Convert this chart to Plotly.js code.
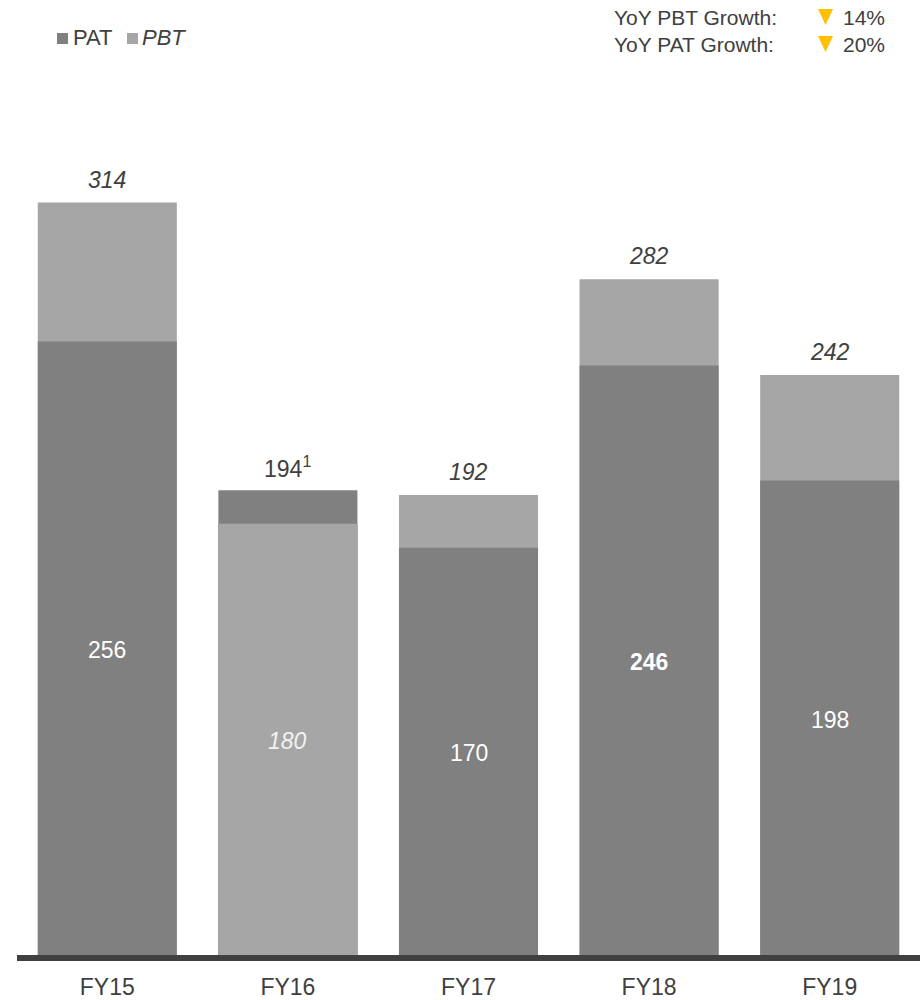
<!DOCTYPE html>
<html>
<head>
<meta charset="utf-8">
<script src="https://cdn.plot.ly/plotly-3.0.1.min.js"></script>
<style>
html,body{margin:0;padding:0;background:#fff;}
#chart{width:922px;height:1000px;}
</style>
</head>
<body>
<div id="chart"></div>
<script>
// ---- data ----
const categories = ['FY15', 'FY16', 'FY17', 'FY18', 'FY19'];
const PAT = [256, 194, 170, 246, 198];
const PBT = [314, 180, 192, 282, 242];
const yoyLabels = ['YoY PBT Growth:', 'YoY PAT Growth:'];
const yoyValues = ['14%', '20%'];
const footnoteCats = ['FY16'];
const boldCats = ['FY18'];

// ---- styling ----
const DARK = '#808080', LIGHT = '#A6A6A6', TXT = '#404040', GOLD = '#FFC000';
const FONT = '"Liberation Sans", Arial, Helvetica, sans-serif';
const W = 922, H = 1000, ML = 17, MR = 2, MT = 60, MB = 45;
const PW = W - ML - MR, PH = H - MT - MB;
const px = x => (x - ML) / PW;
const py = y => (H - MB - y) / PH;

// PBT drawn in front only where it is the smaller value
const PBTfront = PBT.map((v, i) => v < PAT[i] ? v : null);

const traces = [
  {type: 'bar', x: categories, y: PBT, marker: {color: LIGHT}, hoverinfo: 'skip', showlegend: false},
  {type: 'bar', x: categories, y: PAT, marker: {color: DARK}, hoverinfo: 'skip', showlegend: false},
  {type: 'bar', x: categories, y: PBTfront, marker: {color: LIGHT}, hoverinfo: 'skip', showlegend: false}
];

const annotations = [];
categories.forEach((c, i) => {
  const lo = Math.min(PAT[i], PBT[i]);
  const hi = Math.max(PAT[i], PBT[i]);
  const loIsPBT = PBT[i] < PAT[i];
  let inner = String(lo);
  if (loIsPBT) inner = '<i>' + inner + '</i>';
  if (boldCats.includes(c)) inner = '<b>' + inner + '</b>';
  annotations.push({x: c, y: lo / 2, xref: 'x', yref: 'y', text: inner, showarrow: false,
    font: {family: FONT, size: 23, color: loIsPBT ? '#F2F2F2' : '#FFFFFF'}, yanchor: 'middle', yshift: -2});
  let top = String(hi);
  if (!loIsPBT) top = '<i>' + top + '</i>';
  if (footnoteCats.includes(c)) top += '<sup>1</sup>';
  annotations.push({x: c, y: hi, xref: 'x', yref: 'y', text: top, showarrow: false,
    font: {family: FONT, size: 23, color: TXT}, yanchor: 'middle', yshift: 23});
});

// legend (manual)
const shapes = [
  {type: 'rect', xref: 'paper', yref: 'paper', x0: px(57), x1: px(68), y0: py(44), y1: py(33), fillcolor: DARK, line: {width: 0}},
  {type: 'rect', xref: 'paper', yref: 'paper', x0: px(127), x1: px(138), y0: py(44), y1: py(33), fillcolor: LIGHT, line: {width: 0}}
];
annotations.push({xref: 'paper', yref: 'paper', x: px(71), y: py(38), xanchor: 'left', yanchor: 'middle',
  text: 'PAT', showarrow: false, font: {family: FONT, size: 22, color: TXT}});
annotations.push({xref: 'paper', yref: 'paper', x: px(140), y: py(38), xanchor: 'left', yanchor: 'middle',
  text: '<i>PBT</i>', showarrow: false, font: {family: FONT, size: 22, color: TXT}});

// YoY growth header
const rowsY = [17, 44];
yoyLabels.forEach((t, i) => {
  annotations.push({xref: 'paper', yref: 'paper', x: px(612), y: py(rowsY[i]), xanchor: 'left', yanchor: 'middle',
    text: t, showarrow: false, font: {family: FONT, size: 21, color: TXT}});
  const yc = rowsY[i];
  shapes.push({type: 'path', xref: 'paper', yref: 'paper',
    path: 'M ' + px(818) + ' ' + py(yc - 8) + ' L ' + px(833) + ' ' + py(yc - 8) + ' L ' + px(825.5) + ' ' + py(yc + 8) + ' Z',
    fillcolor: GOLD, line: {width: 0}});
  annotations.push({xref: 'paper', yref: 'paper', x: px(841), y: py(rowsY[i]), xanchor: 'left', yanchor: 'middle',
    text: yoyValues[i], showarrow: false, font: {family: FONT, size: 21, color: TXT}});
});

const layout = {
  width: W, height: H,
  margin: {l: ML, r: MR, t: MT, b: MB},
  paper_bgcolor: '#fff', plot_bgcolor: '#fff',
  barmode: 'overlay', bargap: 0.23,
  showlegend: false,
  xaxis: {type: 'category', showline: true, linecolor: TXT, linewidth: 6, ticks: '', ticklabelstandoff: 6,
    tickfont: {family: FONT, size: 23, color: TXT}, showgrid: false, zeroline: false, fixedrange: true},
  yaxis: {range: [0, 373.5], visible: false, showgrid: false, zeroline: false, fixedrange: true},
  annotations: annotations,
  shapes: shapes,
  font: {family: FONT}
};

Plotly.newPlot('chart', traces, layout, {displayModeBar: false, staticPlot: true});
</script>
</body>
</html>
